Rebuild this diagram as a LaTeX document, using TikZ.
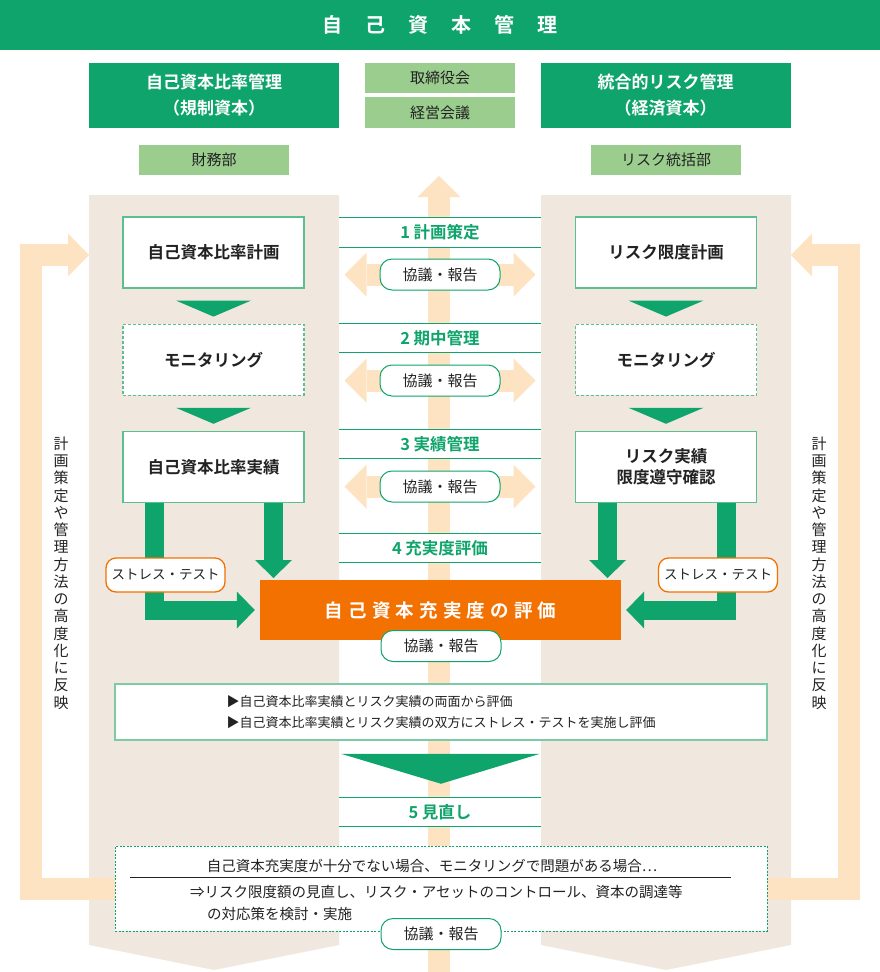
\documentclass[tikz,border=0pt]{standalone}
\usepackage{fontspec}
\setmainfont{Noto Sans CJK JP}[BoldFont={* Bold}]
\usepackage{tikz}
\usetikzlibrary{arrows.meta,calc,positioning,backgrounds}
\definecolor{mgreen}{HTML}{0FA46B}
\definecolor{lgreen}{HTML}{9ACD8E}
\definecolor{boxline}{HTML}{5DBE8E}
\definecolor{sumline}{HTML}{7DCBA5}
\definecolor{beige}{HTML}{F0E8DE}
\definecolor{peach}{HTML}{FDE3C2}
\definecolor{accent}{HTML}{F27100}
\definecolor{darkgray}{HTML}{222222}
\newcommand{\gap}{\hspace{1.15em}}
\newcommand{\ksp}{\hspace{.28em}}

\begin{document}
\begin{tikzpicture}[x=1pt,y=-1pt,
  font=\fontsize{15}{18}\selectfont, text=darkgray,
  head/.style={fill=mgreen,text=white,font=\bfseries\fontsize{17}{26}\selectfont,minimum width=250pt,minimum height=65pt,inner sep=0pt,align=center},
  dept/.style={fill=lgreen,minimum width=150pt,minimum height=30pt,inner sep=0pt},
  plan/.style={draw=boxline,line width=1.2pt,fill=white,minimum width=181pt,minimum height=71pt,inner sep=0pt,align=center,font=\bfseries\fontsize{16.5}{21}\selectfont},
  monitor/.style={plan,dash pattern=on 3pt off 2pt},
  stage/.style={fill=white,text=mgreen,minimum width=202pt,minimum height=29pt,inner sep=0pt,font=\bfseries\fontsize{16.5}{20}\selectfont},
  stageline/.style={mgreen,line width=1pt},
  talk/.style={draw=mgreen,line width=1pt,fill=white,rounded corners=12pt,minimum width=120pt,minimum height=31pt,inner sep=0pt},
  stress/.style={draw=accent,line width=1.3pt,fill=white,rounded corners=10pt,minimum width=119pt,minimum height=34pt,inner sep=0pt,font=\fontsize{13.5}{16}\selectfont},
  feed/.style={peach,line width=22pt,-{Triangle[length=21pt,width=43pt,line width=0pt]}},
  twoway/.style={peach,line width=22pt,{Triangle[length=22pt,width=44pt,line width=0pt]}-{Triangle[length=22pt,width=44pt,line width=0pt]}},
  flow/.style={mgreen,line width=19pt,-{Triangle[length=18pt,width=37pt,line width=0pt]}},
  vnote/.style={font=\fontsize{15}{17.25}\selectfont,align=center,inner sep=0pt},
]
  \useasboundingbox (0,0) rectangle (880,972);

  % title band
  \fill[mgreen] (0,0) rectangle (880,50);
  \node[text=white,font=\bfseries\fontsize{20}{24}\selectfont] (title) at (440,25) {自\gap 己\gap 資\gap 本\gap 管\gap 理};

  % headers
  \node[head] (lhead) at (214,95.5) {自己資本比率管理\\（規制資本）};
  \node[head] (rhead) at (665.5,95.5) {統合的リスク管理\\（経済資本）};
  \node[dept,minimum height=30pt] (board) at (440,78) {取締役会};
  \node[dept,minimum height=31pt] (mgmt) at (440,112.5) {経営会議};
  \node[dept] (ldept) at (214,160) {財務部};
  \node[dept] (rdept) at (666,160) {リスク統括部};

  % stages in the middle
  \node[stage] (s1) at (440,232.5) {1 計画策定};
  \node[stage] (s2) at (440,338) {2 期中管理};
  \node[stage] (s3) at (440,444) {3 実績管理};
  \node[stage] (s4) at (440,548) {4 充実度評価};
  \node[stage] (s5) at (440,812) {5 見直し};
  \draw[stageline] (s1.north west) -- (s1.north east) (s1.south west) -- (s1.south east);
  \draw[stageline] (s2.north west) -- (s2.north east) (s2.south west) -- (s2.south east);
  \draw[stageline] (s3.north west) -- (s3.north east) (s3.south west) -- (s3.south east);
  \draw[stageline] (s4.north west) -- (s4.north east) (s4.south west) -- (s4.south east);
  \draw[stageline] (s5.north west) -- (s5.north east) (s5.south west) -- (s5.south east);

  \node[talk] (t1) at (440,274.5) {協議・報告};
  \node[talk] (t2) at (440,380.5) {協議・報告};
  \node[talk] (t3) at (440,486.5) {協議・報告};

  % left column
  \node[plan] (lplan) at (213.5,252.5) {自己資本比率計画};
  \node[monitor,below=35pt of lplan] (lmon) {モニタリング};
  \node[plan,below=35pt of lmon] (lact) {自己資本比率実績};
  % right column
  \node[plan] (rplan) at (666,252.5) {リスク限度計画};
  \node[monitor,below=35pt of rplan] (rmon) {モニタリング};
  \node[plan,below=35pt of rmon] (ract) {リスク実績\\限度遵守確認};

  \fill[mgreen] ($(lplan.south)+(-37.5,12)$) -- ($(lplan.south)+(37.5,12)$) -- ($(lplan.south)+(0,28)$) -- cycle;
  \fill[mgreen] ($(lmon.south)+(-37.5,12)$) -- ($(lmon.south)+(37.5,12)$) -- ($(lmon.south)+(0,28)$) -- cycle;
  \fill[mgreen] ($(rplan.south)+(-37.5,12)$) -- ($(rplan.south)+(37.5,12)$) -- ($(rplan.south)+(0,28)$) -- cycle;
  \fill[mgreen] ($(rmon.south)+(-37.5,12)$) -- ($(rmon.south)+(37.5,12)$) -- ($(rmon.south)+(0,28)$) -- cycle;

  % evaluation
  \node[fill=accent,text=white,minimum width=361pt,minimum height=60pt,inner sep=0pt,font=\bfseries\fontsize{18.5}{22}\selectfont] (eval) at (440.5,610) {自\ksp 己\ksp 資\ksp 本\ksp 充\ksp 実\ksp 度\ksp の\ksp 評\ksp 価};
  \draw[flow] ($(lact.south)+(-59.5,0)$) |- ([xshift=-5pt]eval.west);
  \draw[flow] ($(lact.south)+(60,0)$) -- ($(lact.south)+(60,75)$);
  \draw[flow] ($(ract.south)+(60.5,0)$) |- ([xshift=5pt]eval.east);
  \draw[flow] ($(ract.south)+(-58.5,0)$) -- ($(ract.south)+(-58.5,75)$);
  \node[stress] (lstress) at (165.5,575) {ストレス・テスト};
  \node[stress] (rstress) at (718,575) {ストレス・テスト};
  \node[talk] (t4) at (441,646) {協議・報告};

  % summary and review
  \node[draw=sumline,line width=1.5pt,fill=white,minimum width=652pt,minimum height=56pt,inner sep=0pt,align=left,font=\fontsize{13}{21}\selectfont] (summary) at (441,712)
    {▶自己資本比率実績とリスク実績の両面から評価\\▶自己資本比率実績とリスク実績の双方にストレス・テストを実施し評価};
  \fill[mgreen] ($(summary.south)+(-100,13)$) -- ($(summary.south)+(99,13)$) -- ($(summary.south)+(0,43)$) -- cycle;
  \node[draw=mgreen,line width=1pt,dash pattern=on 2pt off 1.5pt,fill=white,minimum width=652pt,minimum height=85pt,inner sep=0pt] (review) at (441,888.5) {};
  \node[font=\fontsize{14.5}{17}\selectfont] (rv1) at (432,866) {自己資本充実度が十分でない場合、モニタリングで問題がある場合…};
  \draw[darkgray,line width=1pt] (130,877) -- (731,877);
  \node[anchor=west,inner sep=0pt,font=\fontsize{14.5}{17}\selectfont] (rv2) at (190,892) {⇒リスク限度額の見直し、リスク・アセットのコントロール、資本の調達等};
  \node[anchor=west,inner sep=0pt,font=\fontsize{14.5}{17}\selectfont] (rv3) at (207,914) {の対応策を検討・実施};
  \node[talk] (t5) at (441,934) {協議・報告};

  % side notes
  \node[vnote] (lnote) at (61,573) {計\\画\\策\\定\\や\\管\\理\\方\\法\\の\\高\\度\\化\\に\\反\\映};
  \node[vnote] (rnote) at (819,573) {計\\画\\策\\定\\や\\管\\理\\方\\法\\の\\高\\度\\化\\に\\反\\映};

  % panels and light arrows behind
  \begin{scope}[on background layer]
    \fill[beige] (89,195) -- (339,195) -- (339,945) -- (214,970) -- (89,945) -- cycle;
    \fill[beige] (541,195) -- (791,195) -- (791,945) -- (666,970) -- (541,945) -- cycle;
    \coordinate (upbase) at (439,972);
    \coordinate (uptip) at (439,176);
    \coordinate (lin) at (89,255);
    \coordinate (rin) at (791,255);
    \draw[feed] (upbase) -- (uptip);
    \draw[feed] ([xshift=2pt]review.west) -| (31,255) -- (lin);
    \draw[feed] ([xshift=-2pt]review.east) -| (849,255) -- (rin);
    \draw[twoway] ([xshift=-35pt]t1.west) -- ([xshift=35pt]t1.east);
    \draw[twoway] ([xshift=-35pt]t2.west) -- ([xshift=35pt]t2.east);
    \draw[twoway] ([xshift=-35pt]t3.west) -- ([xshift=35pt]t3.east);
  \end{scope}
\end{tikzpicture}
\end{document}
